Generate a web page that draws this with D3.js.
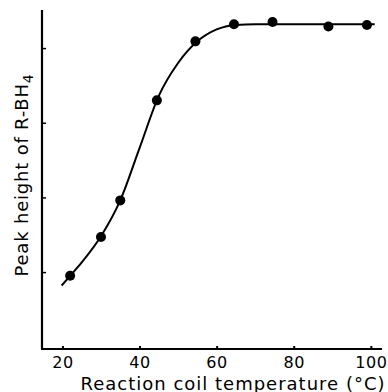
<!DOCTYPE html>
<html>
<head>
<meta charset="utf-8">
<script src="https://cdn.jsdelivr.net/npm/d3@7"></script>
<style>
  html, body { margin: 0; padding: 0; background: #fff; }
  svg { display: block; }
  text { font-family: "DejaVu Sans", sans-serif; fill: #000; }
</style>
</head>
<body>
<div id="chart"></div>
<script>
// measured points (deg C, peak height in arbitrary units)
const tempC = [22, 30, 35, 44.5, 54.5, 64.5, 74.5, 89, 99];
const peak = [0.95, 1.47, 1.96, 3.30, 4.09, 4.32, 4.35, 4.29, 4.31];

// hand-drawn fitted curve
const curveT = [19.8, 22, 25, 30, 35, 40, 45, 50, 55, 60, 65, 70, 80, 90, 101];
const curveH = [0.82, 0.95, 1.13, 1.48, 1.96, 2.66, 3.36, 3.80, 4.09, 4.25, 4.31, 4.32, 4.32, 4.32, 4.32];

const xTicks = [20, 40, 60, 80, 100];
const yTicks = [1, 2, 3, 4];

const W = 388, H = 392;
const margin = { left: 42, right: 6, top: 10, bottom: 43 };

const svg = d3.select("#chart").append("svg").attr("width", W).attr("height", H);

const x = d3.scaleLinear().domain([14.7, 102.9]).range([margin.left, W - margin.right]);
const y = d3.scaleLinear().domain([-0.03, 4.51]).range([H - margin.bottom, margin.top]);

// axes: ticks point inward, no y labels
const xAxis = d3.axisBottom(x).tickValues(xTicks).tickSize(-3).tickFormat(d3.format("d"));
const gx = svg.append("g").attr("transform", `translate(0,${H - margin.bottom})`).call(xAxis);
gx.select(".domain").attr("d", `M${margin.left - 1},0H${W - margin.right}`).attr("stroke-width", 2.2);
gx.selectAll(".tick line").attr("stroke-width", 2);
gx.selectAll(".tick text").attr("font-size", 16).attr("font-family", "DejaVu Sans")
  .attr("letter-spacing", 0.6).attr("y", 19).attr("dy", 0);

const yAxis = d3.axisLeft(y).tickValues(yTicks).tickSize(-4).tickFormat("");
const gy = svg.append("g").attr("transform", `translate(${margin.left},0)`).call(yAxis);
gy.select(".domain").attr("d", `M0,${margin.top}V${H - margin.bottom}`).attr("stroke-width", 2.2);
gy.selectAll(".tick line").attr("stroke-width", 1.5);

// fitted curve
const line = d3.line().x((d, i) => x(curveT[i])).y((d, i) => y(curveH[i])).curve(d3.curveMonotoneX);
svg.append("path").datum(curveT).attr("d", line)
  .attr("fill", "none").attr("stroke", "#000").attr("stroke-width", 2);

svg.append("g").selectAll("circle").data(tempC).join("circle")
  .attr("cx", (d) => x(d)).attr("cy", (d, i) => y(peak[i])).attr("r", 5).attr("fill", "#000");

// titles
svg.append("text").attr("x", 233).attr("y", 389.5).attr("text-anchor", "middle")
  .attr("font-size", 18).attr("letter-spacing", 1).text("Reaction coil temperature (°C)");

const yt = svg.append("text").attr("transform", "translate(28,175) rotate(-90)")
  .attr("text-anchor", "middle").attr("font-size", 18).attr("letter-spacing", 0.8);
yt.append("tspan").text("Peak height of R-BH");
yt.append("tspan").attr("font-size", 14).attr("dy", 5).text("4");
</script>
</body>
</html>
